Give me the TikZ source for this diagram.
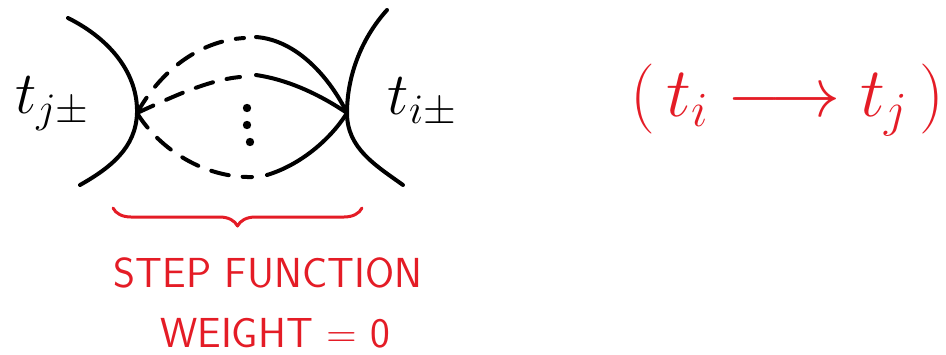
\documentclass[tikz,border=0pt]{standalone}
\usepackage{fix-cm}
\usetikzlibrary{decorations.pathreplacing}
\definecolor{penred}{RGB}{228,28,38}

\begin{document}
\begin{tikzpicture}[x=1pt,y=1pt,line cap=round,line join=round,
        solidarc/.style={line width=4pt},
        dashedarc/.style={line width=4pt,dash pattern=on 18pt off 14pt},
        bigmath/.style={font=\fontsize{60}{72}\selectfont},
        redtext/.style={penred,inner sep=1pt,font=\sffamily\fontsize{42}{50}\selectfont}]
        \useasboundingbox (0,0) rectangle (946,-354);

        % Vertices where the curves meet
        \coordinate (tj) at (137,-113);
        \coordinate (ti) at (347,-113);

        % Left and right pinched curves
        \draw[solidarc] (68,-18) .. controls (112,-40) and (138,-75) .. (tj)
            .. controls (136,-148) and (110,-168) .. (80,-185);
        \draw[solidarc] (387,-10) .. controls (360,-40) and (347,-78) .. (ti)
            .. controls (347,-148) and (375,-165) .. (403,-185);

        % Upper arc
        \draw[dashedarc] (tj) .. controls (160,-72) and (198,-41) .. (244,-38);
        \draw[solidarc] (256,-37) .. controls (297,-40) and (330,-78) .. (ti);

        % Middle arc
        \draw[dashedarc] (tj) .. controls (172,-97) and (208,-80) .. (240,-77);
        \draw[solidarc] (256,-75) .. controls (290,-80) and (322,-96) .. (ti);

        % Lower arc
        \draw[dashedarc] (tj) .. controls (160,-150) and (205,-178) .. (252,-177);
        \draw[solidarc] (267,-175) .. controls (300,-165) and (330,-140) .. (ti);

        % Vertical dots
        \fill (247,-108) circle (4.2pt);
        \fill (247,-125) circle (4.2pt);
        \fill (250,-142) circle (4.2pt);

        % Vertex labels
        \node[bigmath] (labj) at (52,-104) {$t_{j\pm}$};
        \node[bigmath] (labi) at (422,-102) {$t_{i\pm}$};

        % Brace under the arcs
        \coordinate (bl) at (113,-208);
        \coordinate (br) at (362,-208);
        \draw[penred,line width=3pt,decorate,decoration={brace,amplitude=18pt}]
            (br) -- (bl);

        \node[redtext] (step) at (268,-273) {STEP FUNCTION};
        \node[redtext] (weight) at (275,-333) {WEIGHT = 0};

        % Direction
        \node[penred,anchor=east,font=\fontsize{70}{84}\selectfont] (dir)
            at (948,-100) {$(\,t_i \longrightarrow t_j\,)$};
    \end{tikzpicture}
\end{document}
